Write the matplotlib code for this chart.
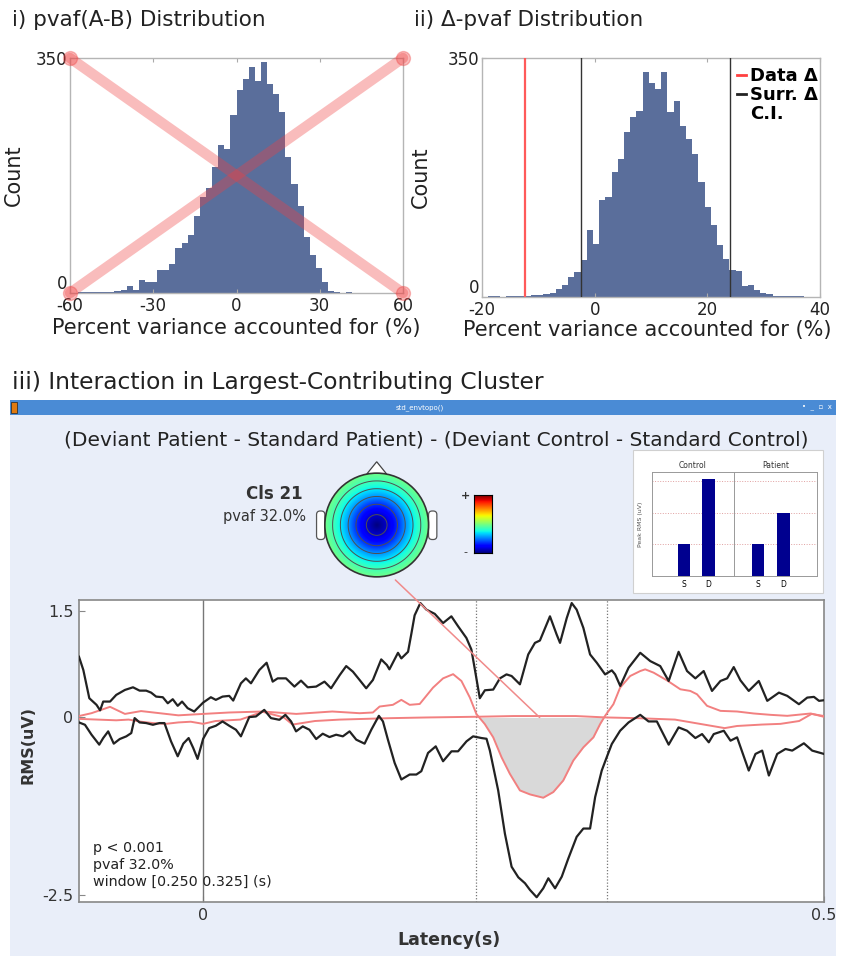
import numpy as np
import matplotlib
matplotlib.use('Agg')
import matplotlib.pyplot as plt
from matplotlib.patches import Rectangle, Circle, Polygon, FancyBboxPatch, ConnectionPatch
from matplotlib.lines import Line2D

plt.rcParams['axes.unicode_minus'] = False

# ---------------- data ----------------
# i) pvaf(A-B) histogram (bin width 2.2, first edge -57.2)
pvaf_first_edge = -57.2
pvaf_bin_width = 2.2
pvaf_counts = [2, 1, 2, 2, 2, 1, 3, 5, 10, 5, 20, 17, 17, 34, 34, 43, 67, 75, 86, 115,
               143, 156, 187, 220, 214, 265, 302, 319, 337, 316, 344, 312, 297, 270, 203,
               163, 129, 84, 57, 37, 17, 3, 1, 0, 2]
pvaf_xticks = [-60, -30, 0, 30, 60]

# ii) delta-pvaf histogram (bin width 1.1, first edge -19.0)
dpvaf_first_edge = -19.0
dpvaf_bin_width = 1.1
dpvaf_counts = [1, 1, 0, 1, 1, 2, 2, 3, 3, 4, 6, 11, 17, 29, 37, 54, 98, 78, 142, 147,
                183, 202, 241, 264, 273, 329, 313, 305, 329, 271, 287, 251, 232, 209, 169,
                132, 105, 76, 56, 39, 38, 16, 17, 10, 6, 5, 2, 2, 1, 2, 1]
dpvaf_xticks = [-20, 0, 20, 40]
data_delta = -12.4
surr_ci = [-2.4, 24.0]

# iii) envelopes (latency s, RMS uV)
t_up = [-0.100, -0.0965, -0.0917, -0.0859, -0.083, -0.0805, -0.075, -0.070, -0.063, -0.0565,
        -0.0512, -0.0459, -0.0419, -0.0379, -0.0325, -0.0285, -0.0245, -0.0205, -0.017, -0.0125,
        -0.0072, -0.0032, 0.0, 0.0062, 0.0102, 0.0156, 0.021, 0.0242, 0.0304, 0.0344,
        0.0385, 0.0452, 0.0511, 0.056, 0.060, 0.0667, 0.0735, 0.0788, 0.0842, 0.091,
        0.0977, 0.103, 0.110, 0.1152, 0.1206, 0.126, 0.1313, 0.1367, 0.1434, 0.148,
        0.150, 0.1569, 0.1596, 0.165, 0.1677, 0.1703, 0.1749, 0.1798, 0.1865, 0.1932,
        0.1999, 0.2053, 0.212, 0.216, 0.2188, 0.2228, 0.2269, 0.2336, 0.239, 0.2443,
        0.2484, 0.2551, 0.2618, 0.2672, 0.2712, 0.2793, 0.2847, 0.2874, 0.2928, 0.2968,
        0.3008, 0.3062, 0.3116, 0.317, 0.3237, 0.3291, 0.3318, 0.3359, 0.3426, 0.352,
        0.3601, 0.3681, 0.3749, 0.3829, 0.3897, 0.3964, 0.4031, 0.4098, 0.4166, 0.422,
        0.4273, 0.4327, 0.4394, 0.4475, 0.4543, 0.4637, 0.4704, 0.4798, 0.4865, 0.4919,
        0.496, 0.5]
v_up = [0.855, 0.668, 0.271, 0.178, 0.10, 0.224, 0.224, 0.318, 0.388, 0.425,
        0.378, 0.378, 0.35, 0.294, 0.285, 0.20, 0.257, 0.164, 0.224, 0.131,
        0.084, 0.154, 0.21, 0.285, 0.248, 0.294, 0.304, 0.238, 0.481, 0.551,
        0.481, 0.668, 0.771, 0.505, 0.551, 0.551, 0.435, 0.519, 0.425, 0.435,
        0.505, 0.411, 0.598, 0.724, 0.645, 0.528, 0.411, 0.528, 0.818, 0.738,
        0.678, 0.911, 0.832, 0.925, 1.182, 1.439, 1.612, 1.519, 1.46, 1.33,
        1.425, 1.285, 1.12, 0.958, 0.678, 0.271, 0.383, 0.393, 0.551, 0.607,
        0.584, 0.467, 0.888, 1.051, 1.084, 1.425, 1.168, 1.051, 1.40, 1.612,
        1.519, 1.262, 0.888, 0.771, 0.607, 0.664, 0.607, 0.444, 0.70, 0.911,
        0.794, 0.724, 0.514, 0.925, 0.654, 0.551, 0.654, 0.374, 0.514, 0.551,
        0.710, 0.523, 0.374, 0.514, 0.234, 0.350, 0.304, 0.187, 0.28, 0.29,
        0.234, 0.243]

t_lo = [-0.1, -0.0952, -0.0899, -0.0837, -0.0805, -0.0765, -0.072, -0.0672, -0.0619, -0.0579,
        -0.0552, -0.0512, -0.0459, -0.0405, -0.0352, -0.0312, -0.0259, -0.0205, -0.016, -0.0117,
        -0.008, -0.0045, 0.0, 0.0048, 0.0102, 0.0156, 0.021, 0.0264, 0.0304, 0.0371,
        0.0425, 0.0492, 0.0546, 0.0614, 0.0662, 0.0708, 0.0748, 0.0802, 0.0856, 0.091,
        0.0963, 0.1017, 0.1071, 0.1125, 0.1179, 0.1233, 0.13, 0.1354, 0.1415, 0.1448,
        0.1488, 0.1542, 0.1596, 0.1663, 0.1717, 0.1757, 0.1811, 0.1873, 0.1932, 0.2,
        0.2053, 0.2121, 0.2174, 0.2242, 0.2282, 0.2309, 0.2376, 0.243, 0.2484, 0.2538,
        0.2592, 0.2632, 0.2686, 0.2739, 0.278, 0.2834, 0.2888, 0.2941, 0.3008, 0.3062,
        0.3116, 0.3157, 0.321, 0.325, 0.3291, 0.3358, 0.3426, 0.352, 0.3587, 0.3654,
        0.3749, 0.3829, 0.3897, 0.3964, 0.4018, 0.4072, 0.4112, 0.4193, 0.4247, 0.43,
        0.4394, 0.4448, 0.4502, 0.4556, 0.4623, 0.469, 0.4744, 0.4838, 0.4905, 0.5]
v_lo = [-0.07, -0.103, -0.243, -0.383, -0.29, -0.196, -0.369, -0.304, -0.266, -0.22,
        -0.009, -0.07, -0.079, -0.103, -0.079, -0.079, -0.336, -0.547, -0.369, -0.29,
        -0.43, -0.584, -0.30, -0.15, -0.117, -0.056, -0.117, -0.173, -0.266, 0.005,
        0.014, 0.107, -0.009, -0.033, 0.037, -0.056, -0.196, -0.126, -0.173, -0.304,
        -0.229, -0.276, -0.243, -0.266, -0.196, -0.313, -0.369, -0.173, 0.023, -0.056,
        -0.313, -0.64, -0.874, -0.804, -0.804, -0.757, -0.50, -0.407, -0.617, -0.477,
        -0.477, -0.336, -0.266, -0.29, -0.30, -0.467, -1.028, -1.636, -2.103, -2.252,
        -2.336, -2.43, -2.533, -2.407, -2.266, -2.407, -2.243, -1.986, -1.682, -1.565,
        -1.565, -1.121, -0.748, -0.561, -0.374, -0.187, -0.07, 0.037, -0.056, -0.056,
        -0.383, -0.14, -0.187, -0.29, -0.234, -0.35, -0.234, -0.187, -0.327, -0.28,
        -0.748, -0.514, -0.467, -0.818, -0.514, -0.444, -0.467, -0.364, -0.467, -0.514]

t_cluster = [-0.1, -0.09, -0.075, -0.063, -0.05, -0.035, -0.02, 0.0, 0.021, 0.048,
             0.075, 0.104, 0.126, 0.1367, 0.1421, 0.1528, 0.1596, 0.1663, 0.1744, 0.1851,
             0.1932, 0.2013, 0.208, 0.2148, 0.2201, 0.2268, 0.2336, 0.2403, 0.247, 0.2551,
             0.2632, 0.2739, 0.282, 0.29, 0.2981, 0.3062, 0.3143, 0.3197, 0.3237, 0.3304,
             0.3358, 0.3439, 0.352, 0.356, 0.3628, 0.3735, 0.3843, 0.3923, 0.3977, 0.4058,
             0.4166, 0.43, 0.4435, 0.457, 0.4704, 0.4893, 0.5]
v_cluster = [0.02, 0.06, 0.15, 0.05, 0.09, 0.06, 0.03, 0.05, 0.07, 0.084,
             0.05, 0.084, 0.06, 0.07, 0.154, 0.178, 0.248, 0.178, 0.19, 0.42,
             0.551, 0.61, 0.514, 0.28, 0.047, -0.093, -0.28, -0.561, -0.794, -1.028,
             -1.084, -1.131, -1.051, -0.888, -0.607, -0.421, -0.28, -0.093, 0.023, 0.187,
             0.421, 0.584, 0.654, 0.678, 0.631, 0.523, 0.397, 0.374, 0.327, 0.164,
             0.093, 0.084, 0.056, 0.037, 0.023, 0.056, 0.009]

t_rest = [-0.1, -0.085, -0.07, -0.06, -0.05, -0.04, -0.03, -0.02, -0.01, 0.0,
          0.01, 0.03, 0.048, 0.065, 0.072, 0.09, 0.11, 0.13, 0.15, 0.18,
          0.22, 0.25, 0.3, 0.325, 0.35, 0.38, 0.40, 0.42, 0.43, 0.45,
          0.465, 0.48, 0.49, 0.5]
v_rest = [-0.02, -0.03, -0.04, -0.03, -0.06, -0.08, -0.09, -0.07, -0.06, -0.09,
          -0.05, -0.03, 0.08, 0.0, -0.1, -0.05, -0.03, -0.02, -0.01, 0.0,
          0.01, 0.02, 0.02, 0.0, -0.01, -0.03, -0.09, -0.15, -0.12, -0.1,
          -0.09, -0.05, 0.05, 0.02]

window_lines = [0.22, 0.325]
leader_target = (0.271, 0.0)

# inset bar chart (peak RMS)
bar_cats = ['S', 'D']
control_peak = [1.0, 3.05]
patient_peak = [1.0, 2.0]

# scalp map radial profile (normalised radius -> relative value)
topo_r = [0.0, 0.2, 0.4, 0.55, 0.7, 0.85, 1.0, 1.5]
topo_v = [-1.0, -0.86, -0.66, -0.46, -0.29, -0.14, -0.03, 0.0]
topo_levels = [-0.86, -0.66, -0.46, -0.29, -0.14]

# ---------------- figure ----------------
W, H = 841, 956
fig = plt.figure(figsize=(W / 100, H / 100), dpi=100)
fig.patch.set_facecolor('white')


def fx(px):
    return px / W


def fy(py):
    return 1 - py / H


BAR = '#5a6e9b'
GRAY_SPINE = '#b5b5b5'

# panel titles
fig.text(fx(12), fy(20), 'i) pvaf(A-B) Distribution', fontsize=15.5, va='center', ha='left', color='#222')
fig.text(fx(414), fy(20), 'ii) Δ-pvaf Distribution', fontsize=15.5, va='center', ha='left', color='#222')
fig.text(fx(12), fy(383), 'iii) Interaction in Largest-Contributing Cluster', fontsize=16.8,
         va='center', ha='left', color='#222')


def style_hist(ax):
    for s in ax.spines.values():
        s.set_color(GRAY_SPINE)
        s.set_linewidth(1.0)
    ax.tick_params(direction='in', length=3, color='#aaaaaa', labelsize=12, pad=2,
                   top=True, right=False, labelcolor='#222')
    ax.tick_params(axis='x', pad=3)
    ax.set_ylim(0, 350)
    ax.set_yticks([0, 350])
    ax.set_ylabel('Count', fontsize=15, color='#222')
    ax.set_xlabel('Percent variance accounted for (%)', fontsize=15, color='#222')
    ylabs = ax.get_yticklabels()
    ylabs[0].set_verticalalignment('bottom')


# ---- i) ----
ax1 = fig.add_axes([fx(70), fy(293), 333 / W, 235 / H])
e1 = pvaf_first_edge + pvaf_bin_width * np.arange(len(pvaf_counts))
ax1.bar(e1, pvaf_counts, width=pvaf_bin_width, align='edge', color=BAR, linewidth=0)
ax1.set_xlim(pvaf_xticks[0], pvaf_xticks[-1])
ax1.set_xticks(pvaf_xticks)
style_hist(ax1)
ax1.yaxis.set_label_coords(-0.14, 0.5)
ax1.xaxis.set_label_coords(0.5, -0.105)
x0, x1 = ax1.get_xlim()
y0, y1 = ax1.get_ylim()
for xs, ys in (([x0, x1], [y0, y1]), ([x0, x1], [y1, y0])):
    ax1.plot(xs, ys, color='#f04040', alpha=0.35, lw=7.5, solid_capstyle='round',
             marker='o', markersize=10, clip_on=False, zorder=5)

# ---- ii) ----
ax2 = fig.add_axes([fx(482), fy(297), 338 / W, 239 / H])
e2 = dpvaf_first_edge + dpvaf_bin_width * np.arange(len(dpvaf_counts))
ax2.bar(e2, dpvaf_counts, width=dpvaf_bin_width, align='edge', color=BAR, linewidth=0)
ax2.set_xlim(dpvaf_xticks[0], dpvaf_xticks[-1])
ax2.set_xticks(dpvaf_xticks)
style_hist(ax2)
ax2.axvline(data_delta, color='#ff5a5a', lw=1.6, zorder=4)
for c in surr_ci:
    ax2.axvline(c, color='#333333', lw=1.0, zorder=4)
ax2.yaxis.set_label_coords(-0.15, 0.5)
ax2.xaxis.set_label_coords(0.49, -0.095)
handles = [Line2D([], [], color='#ff4040', lw=2), Line2D([], [], color='#222', lw=2),
           Line2D([], [], color='none', lw=2)]
leg = ax2.legend(handles, ['Data Δ', 'Surr. Δ', 'C.I.'], loc='upper right', frameon=False,
                 handlelength=0.5, handletextpad=0.2, borderaxespad=0.1, labelspacing=0.05,
                 prop={'weight': 'bold', 'size': 13}, bbox_to_anchor=(1.02, 1.0))

# ---------------- window ----------------
fig.add_artist(Rectangle((fx(10), 0), fx(836) - fx(10), fy(414), transform=fig.transFigure,
                         facecolor='#e9eef9', edgecolor='none', zorder=-5))
fig.add_artist(Rectangle((fx(10), fy(415)), fx(836) - fx(10), 15 / H, transform=fig.transFigure,
                         facecolor='#4a8bd5', edgecolor='none', zorder=-4))
fig.add_artist(Rectangle((fx(11), fy(413)), 6 / W, 11 / H, transform=fig.transFigure,
                         facecolor='#e07a10', edgecolor='#222', lw=0.5, zorder=-3))
fig.text(fx(420), fy(407.5), 'std_envtopo()', fontsize=5, color='white', ha='center', va='center')
fig.text(fx(832), fy(407.5), '•  _  ▫  x', fontsize=5, color='white', ha='right', va='center')

fig.text(fx(436), fy(440), '(Deviant Patient - Standard Patient) - (Deviant Control - Standard Control)',
         fontsize=14.5, ha='center', va='center', color='#222')

# ---- scalp map ----
axT = fig.add_axes([fx(376.7 - 70), fy(525 + 70), 140 / W, 140 / H])
axT.set_xlim(-1.35, 1.35)
axT.set_ylim(-1.35, 1.35)
axT.axis('off')
gx = np.linspace(-1, 1, 241)
GX, GY = np.meshgrid(gx, gx)
R = np.hypot(GX, GY)
Z = np.interp(R, topo_r, topo_v)
for sx in (-1, 1):
    ear = FancyBboxPatch((1.0 if sx > 0 else -1.16, -0.28), 0.16, 0.55,
                         boxstyle='round,pad=0,rounding_size=0.07', fc='white', ec='#555', lw=0.9, zorder=1)
    axT.add_patch(ear)
axT.add_patch(Polygon([(-0.19, 0.985), (0, 1.22), (0.19, 0.985)], closed=True, fc='white', ec='#444',
                      lw=0.9, zorder=1))
head = Circle((0, 0), 1.0, transform=axT.transData)
im = axT.imshow(Z, extent=(-1, 1, -1, 1), origin='lower', cmap='jet', vmin=-1, vmax=1,
                interpolation='bilinear', zorder=2)
im.set_clip_path(head)
cs = axT.contour(GX, GY, np.where(R <= 0.99, Z, np.nan), levels=topo_levels, colors='#505050',
                 linewidths=0.7, linestyles='solid', zorder=3)
axT.add_patch(Circle((0, 0), 1.0, fill=False, ec='#333', lw=1.2, zorder=4))

fig.text(fx(303), fy(494), 'Cls 21', fontsize=12, fontweight='bold', ha='right', va='center', color='#333')
fig.text(fx(306), fy(517), 'pvaf 32.0%', fontsize=10.5, ha='right', va='center', color='#333')

axCB = fig.add_axes([fx(474.3), fy(553), 17.7 / W, 58 / H])
axCB.imshow(np.linspace(-1, 1, 128)[:, None], cmap='jet', aspect='auto', origin='lower')
axCB.set_xticks([])
axCB.set_yticks([])
for s in axCB.spines.values():
    s.set_linewidth(0.8)
fig.text(fx(465), fy(496), '+', fontsize=8, ha='center', va='center', color='#333', fontweight='bold')
fig.text(fx(465), fy(552), '-', fontsize=8, ha='center', va='center', color='#333')

# ---- inset bar chart ----
fig.add_artist(Rectangle((fx(633), fy(593)), 190 / W, 143 / H, transform=fig.transFigure,
                         facecolor='white', edgecolor='#d0d0d0', lw=0.8, zorder=-2))
axC = fig.add_axes([fx(651.7), fy(576), 82.3 / W, 104.3 / H])
axP = fig.add_axes([fx(734), fy(576), 82.7 / W, 104.3 / H])
for ax, vals, title, xl in ((axC, control_peak, 'Control', (-1.3, 2.04)),
                            (axP, patient_peak, 'Patient', (-0.95, 2.32))):
    ax.bar(np.arange(len(bar_cats)), vals, width=0.5, color='#00008f', zorder=3)
    ax.set_xlim(*xl)
    ax.set_ylim(0, 3.29)
    ax.set_xticks(np.arange(len(bar_cats)))
    ax.set_xticklabels(bar_cats, fontsize=5.5)
    ax.set_yticks([1, 2, 3])
    ax.set_yticklabels([])
    ax.tick_params(length=0, pad=3)
    ax.grid(axis='y', color='#e0a0a0', linestyle=':', lw=0.7)
    ax.set_title(title, fontsize=5.5, pad=3, color='#333')
    for s in ax.spines.values():
        s.set_color('#999999')
        s.set_linewidth(0.7)
axC.set_ylabel('Peak RMS (uV)', fontsize=4.5, labelpad=3, color='#555')

# ---- main envelope plot ----
ax3 = fig.add_axes([fx(79), fy(902), 745 / W, 302 / H])
ax3.set_xlim(-0.1, 0.5)
ax3.set_ylim(-2.6, 1.655)
ax3.set_facecolor('white')
tc = np.array(t_cluster)
vc = np.array(v_cluster)
ax3.fill_between(tc, vc, 0, where=(tc >= window_lines[0] - 0.002) & (tc <= window_lines[1] + 0.002) & (vc <= 0.05),
                 interpolate=True, color='#d9d9d9', lw=0, zorder=1)
ax3.axvline(0, color='#777777', lw=1.0, zorder=2)
for w in window_lines:
    ax3.axvline(w, color='#777777', lw=0.9, ls=(0, (1, 1.5)), zorder=2)
ax3.plot(t_rest, v_rest, color='#f28080', lw=1.4, zorder=3)
ax3.plot(t_cluster, v_cluster, color='#f28080', lw=1.4, zorder=3)
ax3.plot(t_up, v_up, color='#222222', lw=1.6, zorder=4)
ax3.plot(t_lo, v_lo, color='#222222', lw=1.6, zorder=4)
ax3.set_xticks([0, 0.5])
ax3.set_xticklabels(['0', '0.5'])
ax3.set_yticks([-2.5, 0, 1.5])
ax3.set_yticklabels(['-2.5', '0', '1.5'])
ax3.tick_params(direction='in', length=4, color='#888888', labelsize=11.5, pad=4, labelcolor='#333')
for s in ax3.spines.values():
    s.set_color('#888888')
    s.set_linewidth(1.2)
ax3.set_ylabel('RMS(uV)', fontsize=11.5, fontweight='bold', color='#333')
ax3.yaxis.set_label_coords(-0.059, 0.52)
ax3.set_xlabel('Latency(s)', fontsize=12.5, fontweight='bold', color='#333')
ax3.xaxis.set_label_coords(0.496, -0.095)
ax3.text(0.0188, 0.045, 'p < 0.001\npvaf 32.0%\nwindow [0.250 0.325] (s)', transform=ax3.transAxes,
         fontsize=10.3, va='bottom', ha='left', color='#222', linespacing=1.25, zorder=6)

con = ConnectionPatch(xyA=(0.36, -1.06), coordsA=axT.transData, xyB=leader_target, coordsB=ax3.transData,
                      color='#f08a8a', lw=1.1, zorder=10)
fig.add_artist(con)

fig.savefig('out.png', dpi=100, facecolor='white')
